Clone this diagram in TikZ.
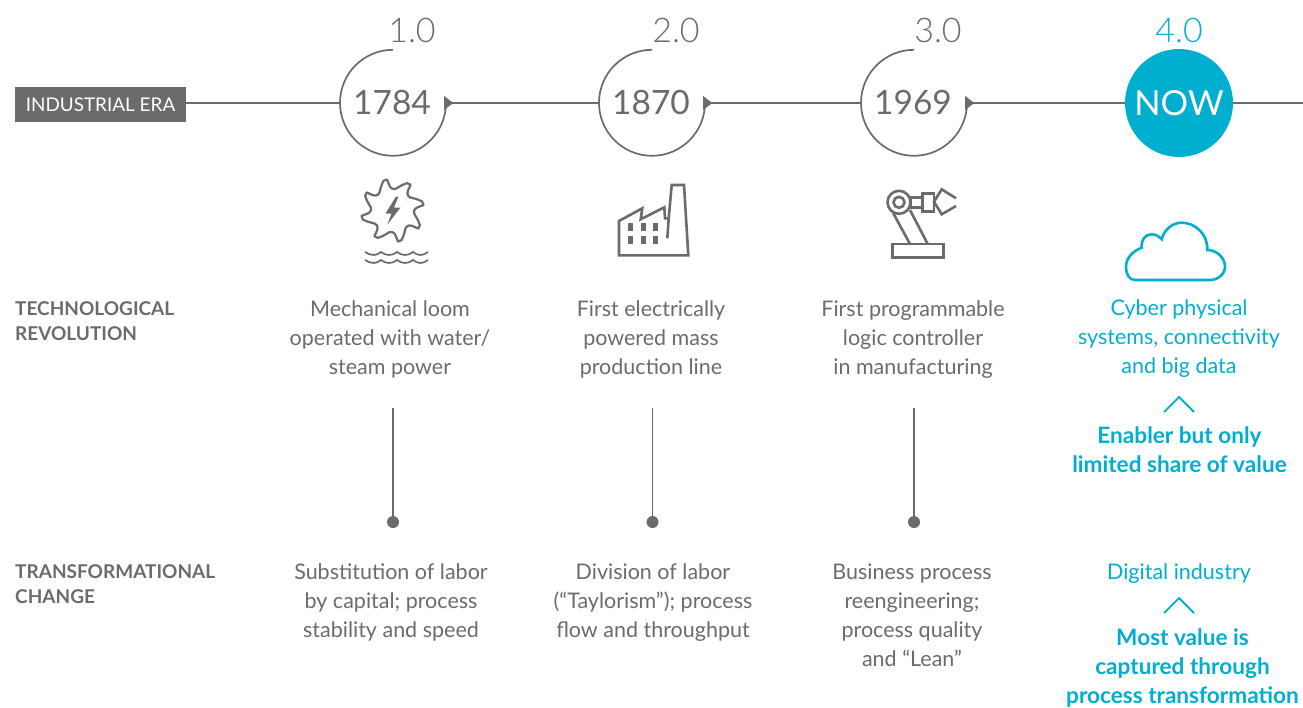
\documentclass[tikz,border=0pt]{standalone}
\usepackage{fontspec}
\setmainfont{Lato}
\newfontfamily\lightf{Lato Light}
\usetikzlibrary{calc}
\definecolor{grayline}{HTML}{6A6B6D}
\definecolor{graytext}{HTML}{6A6B6D}
\definecolor{cyanc}{HTML}{00AECF}
\tikzset{
  px/.style={x=1pt,y=-1pt},
  line/.style={draw=grayline,line width=1.7pt},
  thinline/.style={draw=grayline,line width=1.2pt},
  icon/.style={draw=grayline,line width=2.6pt,line join=miter},
  body/.style={font=\fontsize{21.5}{29}\selectfont,text=graytext,align=center,anchor=north,inner sep=0pt},
  cbody/.style={body,text=cyanc},
  cbold/.style={body,text=cyanc,font=\fontsize{22.6}{29}\selectfont\bfseries},
  side/.style={font=\fontsize{19}{25}\selectfont\bfseries,text=graytext,align=left,anchor=north west,inner sep=0pt},
  yearnode/.style={circle,minimum size=106pt,inner sep=0pt,font=\fontsize{33.5}{40}\selectfont,text=graytext},
  vers/.style={font=\lightf\fontsize{34}{36}\selectfont,text=graytext,inner sep=0pt},
  dotnode/.style={circle,fill=grayline,minimum size=12pt,inner sep=0pt},
  chev/.style={draw=cyanc,line width=1.8pt},
}
\begin{document}
\begin{tikzpicture}[px]
\useasboundingbox (0,0) rectangle (1303,707);
\clip (0,0) rectangle (1303,707);
% era box
\node[fill=grayline,text=white,font=\fontsize{18.9}{20}\selectfont,minimum width=171pt,minimum height=35pt,inner sep=0pt] (era) at (100.5,104.5) {INDUSTRIAL ERA};
% circles
\node[yearnode] (c1) at (393,103) {};
\node[yearnode] (c2) at (652,103) {};
\node[yearnode] (c3) at (914,103) {};
\node[yearnode,fill=cyanc,text=white,minimum size=108pt,font=\fontsize{34.5}{40}\selectfont] (c4) at (1179,103) {NOW};
\node[yearnode,minimum size=0pt] (y1) at (392,102) {1784};
\node[yearnode,minimum size=0pt] (y2) at (651,102) {1870};
\node[yearnode,minimum size=0pt] (y3) at (913,102) {1969};
\coordinate (endr) at (1303,103);
\foreach \n in {c1,c2,c3}{
  \draw[line] (\n.north) arc[start angle=90,end angle=360,radius=53pt];
  \fill[grayline] ($(\n.east)+(-2,-7)$) -- ($(\n.east)+(7,0)$) -- ($(\n.east)+(-2,7)$) -- cycle;
}
\draw[thinline] (era.east |- c1) -- (c1.west);
\draw[thinline] (c1.east) -- (c2.west);
\draw[thinline] (c2.east) -- (c3.west);
\draw[thinline] (c3.east) -- (c4.west);
\draw[thinline] (c4.east) -- (endr);
% version numbers
\node[vers] (v1) at (412,30) {1.0};
\node[vers] (v2) at (676,30) {2.0};
\node[vers] (v3) at (938,30) {3.0};
\node[vers,text=cyanc] (v4) at (1179,30) {4.0};
% gear icon
\begin{scope}[shift={(392.5,210.5)}]
\draw[grayline,line width=2.2pt,line join=round]
  \foreach \a [count=\i from 1] in {-100,-55,...,215}{
    \ifnum\i=1 (\a:31.5) \else -- (\a:31.5) \fi
    -- (\a+3:25) .. controls (\a+6:21) and (\a+17:20.5) .. (\a+24:24)
    .. controls (\a+30:27) and (\a+34:29) .. (\a+38:31) -- (\a+45:31.5)
  } -- cycle;
\fill[grayline] (3.5,-14) -- (-7,3) -- (-1,3) -- (-5,14) -- (8,-3) -- (1.5,-3) -- (6,-14) -- cycle;
\end{scope}
% waves
\foreach \y in {252,260}{
  \draw[grayline,line width=1.7pt] (365,\y)
    .. controls (372,\y+4) and (376,\y+4) .. (381,\y)
    .. controls (386,\y+4) and (392,\y+4) .. (397,\y)
    .. controls (402,\y+4) and (408,\y+4) .. (413,\y)
    .. controls (418,\y+4) and (423,\y+4) .. (428,\y);
}
% factory icon
\draw[icon] (619,221) -- (642.3,208.3) -- (640.7,219.3) -- (664.3,207.3) -- (665,218.3) -- (668.7,218.3) -- (671.7,185) -- (684,185) -- (688.3,255.3) -- (619,255.3) -- cycle;
\draw[icon] (668.7,218.3) -- (667.3,238.3);
\foreach \x in {628.3,641,653.3}\foreach \y in {223.3,236}
  \fill[grayline] (\x,\y) rectangle ++(5,7.7);
% robot icon
\draw[icon] (899,202.3) circle[radius=11.5];
\draw[icon] (899,202.3) circle[radius=5.5];
\draw[icon] (910.7,197.3) rectangle (922.3,207.3);
\draw[icon] (922.3,193.3) rectangle (934,211.7);
\draw[icon] (956,198.3) -- (941.7,189.3) -- (934,201.7) -- (941.7,214.3) -- (956,206);
\draw[icon] (893.3,213.3) -- (910,244);
\draw[icon] (910,210) -- (927.7,244);
\draw[icon] (892.3,244) rectangle (943.3,257.7);
% cloud icon
\draw[cyanc,line width=2.6pt] (1135,280)
  .. controls (1129,280) and (1126,274) .. (1126,266.7)
  .. controls (1126,258) and (1133,251) .. (1141.7,247.7)
  .. controls (1141,240) and (1145,234.3) .. (1151.7,234.3)
  .. controls (1156,234.3) and (1159,236.5) .. (1161.7,239.3)
  .. controls (1164,230) and (1172,222.7) .. (1181.7,222.7)
  .. controls (1195,222.7) and (1208,234) .. (1207.3,250)
  .. controls (1217,250) and (1225,258) .. (1225,266.7)
  .. controls (1225,274) and (1218,280) .. (1210,280) -- cycle;
% left labels
\node[side] (t1) at (15,301) {TECHNOLOGICAL\\REVOLUTION};
\node[side] (t2) at (15,564) {TRANSFORMATIONAL\\CHANGE};
% first row
\node[body] (a1) at (390,300) {Mechanical loom\\operated with water/\\steam power};
\node[body] (a2) at (651,300) {First electrically\\powered mass\\production line};
\node[body] (a3) at (913,300) {First programmable\\logic controller\\in manufacturing};
\node[cbody] (a4) at (1179,299) {Cyber physical\\systems, connectivity\\and big data};
% stems
\coordinate (s1) at (393,408); \coordinate (s2) at (652.5,408); \coordinate (s3) at (914,408);
\node[dotnode] (d1) at (393,522) {};
\node[dotnode] (d2) at (652.5,522) {};
\node[dotnode] (d3) at (914,522) {};
\draw[thinline] (s1) -- (d1); \draw[thinline] (s2) -- (d2); \draw[thinline] (s3) -- (d3);
% chevrons
\draw[chev] (1164,412) -- (1179,397) -- (1194,412);
\draw[chev] (1164,613) -- (1179,598) -- (1194,613);
\node[cbold] (e1) at (1179.5,427) {Enabler but only\\limited share of value};
% second row
\node[body] (b1) at (391,563.3) {Substitution of labor\\by capital; process\\stability and speed};
\node[body] (b2) at (653,563.3) {Division of labor\\(“Taylorism”); process\\flow and throughput};
\node[body] (b3) at (912,563.3) {Business process\\reengineering;\\process quality\\and “Lean”};
\node[cbody] (b4) at (1179,563.3) {Digital industry};
\node[cbold] (e2) at (1182.5,628.5) {Most value is\\captured through\\process transformation};
\end{tikzpicture}
\end{document}
